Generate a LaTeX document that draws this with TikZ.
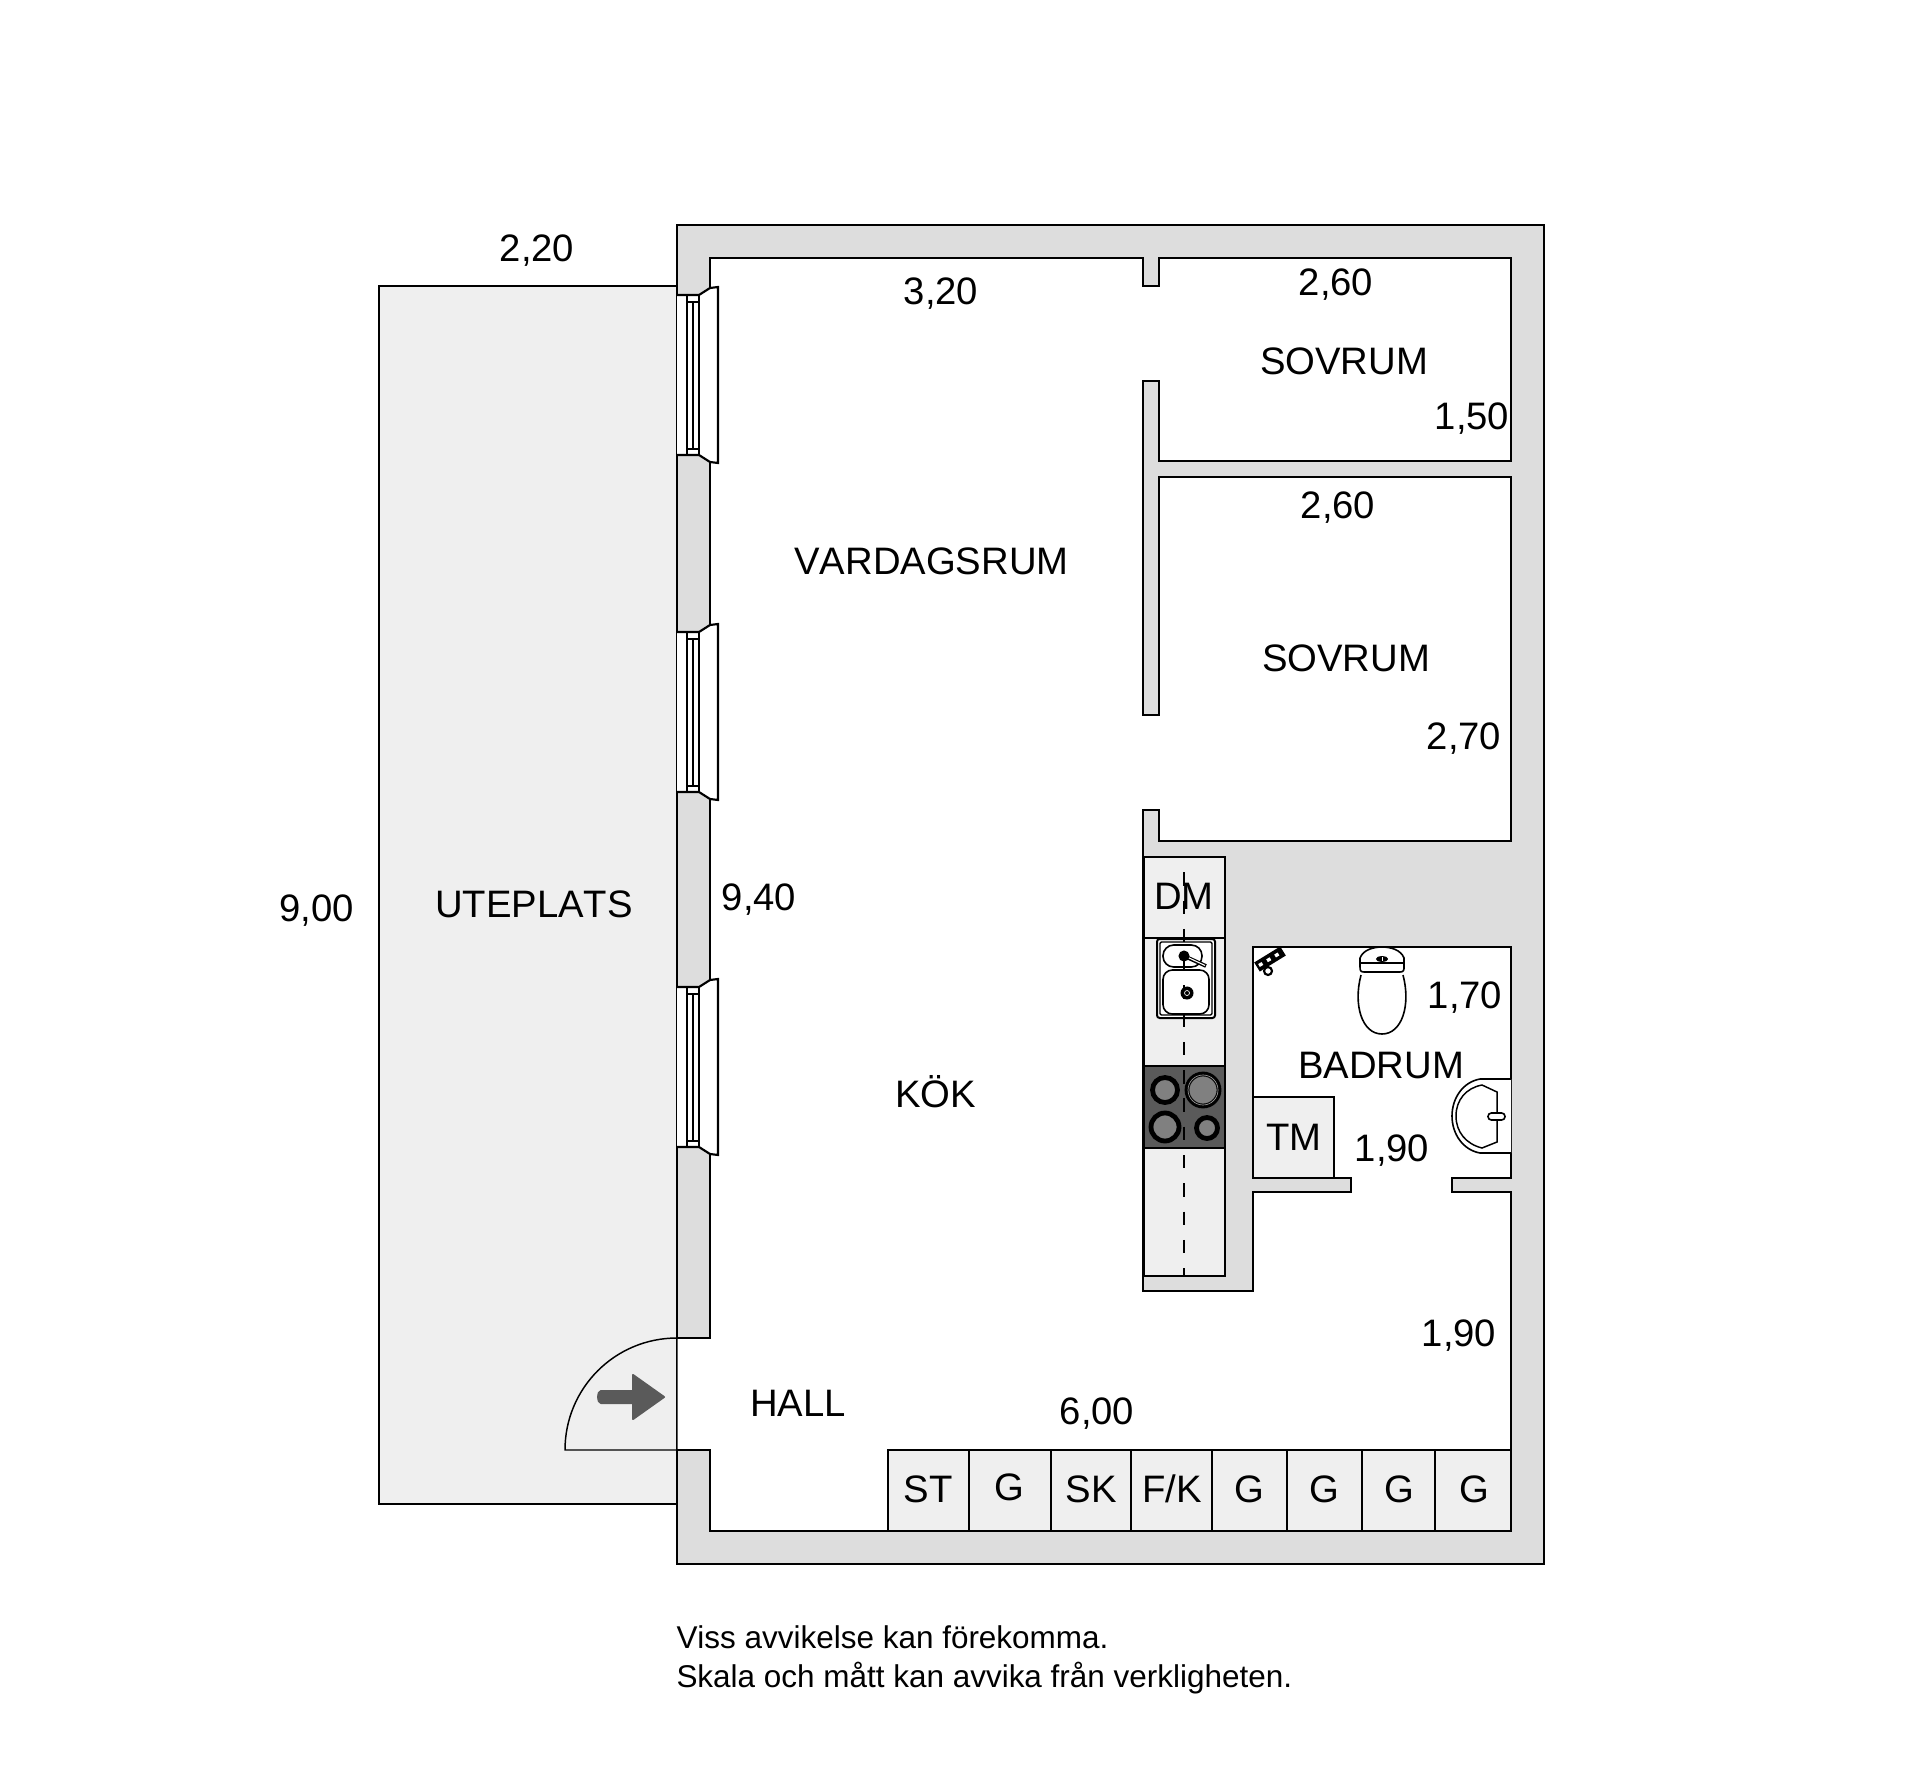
\documentclass[tikz,border=0pt]{standalone}
\usepackage{fontspec}
\setmainfont[Kerning=Off]{Liberation Sans}

\tikzset{every picture/.style={line width=0.75pt}}
\tikzset{
  outerwall/.style={draw=black,line width=1.3pt,fill={rgb, 255:red, 221; green, 221; blue, 221 }},
  terrace/.style={draw=black,line width=1pt,fill={rgb, 255:red, 239; green, 239; blue, 239 }},
  floorline/.style={draw=black,line width=1.6pt,line join=miter,fill=white},
  thinline/.style={draw=black,line width=1.1pt},
  fixture/.style={draw=black,line width=1.2pt,fill=white},
  cabinet/.style={draw=black,line width=1.4pt,fill={rgb, 255:red, 239; green, 239; blue, 239 }},
  hob/.style={draw=black,line width=1.4pt,fill={rgb, 255:red, 90; green, 90; blue, 90 }},
  burner/.style={draw=black,line width=3.6pt,fill={rgb, 255:red, 128; green, 128; blue, 128 }},
  roomlabel/.style={anchor=base,inner sep=0.75pt,font=\fontsize{28.7}{28.7}\selectfont},
  notelabel/.style={anchor=base west,inner sep=0.75pt,font=\fontsize{23.6}{23.6}\selectfont},
}

\begin{document}
\begin{tikzpicture}[x=0.75pt,y=0.75pt,yscale=-1,xscale=1]
        \useasboundingbox (0,0) rectangle (1920,1787);

        %Shape: Rectangle, terrace
        \draw  [terrace] (379,286) -- (677,286) -- (677,1504) -- (379,1504) -- cycle ;
        %Shape: Rectangle, outer wall
        \draw  [outerwall] (677,225) -- (1544,225) -- (1544,1564) -- (677,1564) -- cycle ;

        %Shape: Polygon, floor of all rooms (open at the entrance)
        \draw  [floorline] (677,1338) -- (710,1338) -- (710,258) -- (1143,258) -- (1143,286) -- (1159,286) -- (1159,258) -- (1511,258) -- (1511,461) -- (1159,461) -- (1159,381) -- (1143,381) -- (1143,715) -- (1159,715) -- (1159,477) -- (1511,477) -- (1511,841) -- (1159,841) -- (1159,810) -- (1143,810) -- (1143,1291) -- (1253,1291) -- (1253,1192) -- (1351,1192) -- (1351,1178) -- (1253,1178) -- (1253,947) -- (1511,947) -- (1511,1178) -- (1452,1178) -- (1452,1192) -- (1511,1192) -- (1511,1531) -- (710,1531) -- (710,1450) -- (677,1450) ;

        %Shape: Entrance door
        \draw  [thinline] (677,1338) -- (677,1450) -- (565,1450) .. controls (565,1388) and (615,1338) .. (677,1338) ;
        %Shape: Arrow
        \draw  [draw={rgb, 255:red, 90; green, 90; blue, 90 },line width=1.5pt,line join=round,fill={rgb, 255:red, 90; green, 90; blue, 90 }] (601,1391) -- (633,1391) -- (633,1375) -- (664,1397) -- (633,1419) -- (633,1403) -- (601,1403) .. controls (597,1403) and (597,1391) .. (601,1391) -- cycle ;

        %Shape: Window 1
        \draw  [floorline] (677,295) -- (699,295) -- (710,288) -- (718,287) -- (718,463) -- (710,462) -- (699,455) -- (677,455) ;
        \draw  [thinline] (687,295) -- (687,455) (693,302) -- (693,449) (699,295) -- (699,455) (687,302) -- (699,302) (687,449) -- (699,449) ;
        %Shape: Window 2
        \draw  [floorline] (677,632) -- (699,632) -- (710,625) -- (718,624) -- (718,800) -- (710,799) -- (699,792) -- (677,792) ;
        \draw  [thinline] (687,632) -- (687,792) (693,639) -- (693,786) (699,632) -- (699,792) (687,639) -- (699,639) (687,786) -- (699,786) ;
        %Shape: Window 3
        \draw  [floorline] (677,987) -- (699,987) -- (710,980) -- (718,979) -- (718,1155) -- (710,1154) -- (699,1147) -- (677,1147) ;
        \draw  [thinline] (687,987) -- (687,1147) (693,994) -- (693,1141) (699,987) -- (699,1147) (687,994) -- (699,994) (687,1141) -- (699,1141) ;

        %Shape: Kitchen counter
        \draw  [cabinet] (1144,857) -- (1225,857) -- (1225,1276) -- (1144,1276) -- cycle ;
        \draw  [thinline] (1144,938) -- (1225,938) ;

        %Shape: Kitchen sink
        \draw  [fixture,line width=1.5pt,rounded corners=2pt] (1157,939) -- (1215,939) -- (1215,1018) -- (1157,1018) -- cycle ;
        \draw  [thinline,rounded corners=1pt] (1160,942) -- (1212,942) -- (1212,1015) -- (1160,1015) -- cycle ;
        \draw  [fixture,rounded corners=8pt] (1163,945) -- (1202,945) -- (1202,967) -- (1163,967) -- cycle ;
        \draw  [fixture,rounded corners=7pt] (1163,970) -- (1209,970) -- (1209,1014) -- (1163,1014) -- cycle ;

        %Shape: Hob
        \draw  [hob] (1144,1066) -- (1225,1066) -- (1225,1148) -- (1144,1148) -- cycle ;

        %Shape: Centre line of the counter
        \draw  [thinline,dash pattern={on 10pt off 11.2pt},dash phase=9.7pt] (1184,857) -- (1184,1276) ;

        %Shape: Tap and drain
        \draw  [line width=2.8pt] (1184,956) -- (1206,966) ;
        \draw  [white,line width=0.8pt] (1187,957) -- (1205,965.5) ;
        \draw  [fill=black] (1184,956) circle [radius=5] ;
        \draw  [fill=black] (1187,993) circle [radius=6] ;
        \draw  [white,line width=0.5pt] (1187,993) circle [radius=2.5] ;

        %Shape: Burners
        \draw  [burner] (1165,1090) circle [radius=12.5] ;
        \draw  [burner] (1203,1090) circle [radius=16] ;
        \draw  [white,line width=0.5pt,opacity=0.6] (1203,1090) circle [radius=15] ;
        \draw  [burner] (1165,1127) circle [radius=14] ;
        \draw  [burner] (1207,1128) circle [radius=10.5] ;

        %Shape: Washing machine, closets
        \draw  [cabinet] (1253,1097) -- (1334,1097) -- (1334,1178) -- (1253,1178) -- cycle ;
        \draw  [cabinet] (888,1450) -- (1511,1450) -- (1511,1531) -- (888,1531) -- cycle ;
        \draw  [thinline] (969,1450) -- (969,1531) (1051,1450) -- (1051,1531) (1131,1450) -- (1131,1531) (1212,1450) -- (1212,1531) (1287,1450) -- (1287,1531) (1362,1450) -- (1362,1531) (1435,1450) -- (1435,1531) ;

        %Shape: Toilet
        \draw  [fixture] (1361,975) .. controls (1353,1005) and (1362,1034) .. (1382,1034) .. controls (1402,1034) and (1411,1005) .. (1403,975) ;
        \draw  [fixture] (1364,972) .. controls (1360,972) and (1360,970) .. (1360,966) -- (1360,958) .. controls (1363,950) and (1373,947) .. (1382,947) .. controls (1391,947) and (1401,950) .. (1404,958) -- (1404,966) .. controls (1404,970) and (1404,972) .. (1400,972) -- cycle ;
        \draw  [thinline] (1360,963) -- (1404,963) ;
        \draw  [fill=black] (1382,959) ellipse [x radius=5.5,y radius=2.5] ;
        \draw  [white,line width=0.5pt] (1382,957) -- (1382,961) ;

        %Shape: Wash basin
        \draw  [fixture] (1511,1079) -- (1480,1079) .. controls (1463,1082) and (1452,1098) .. (1452,1116) .. controls (1452,1134) and (1463,1150) .. (1480,1153) -- (1511,1153) ;
        \draw  [thinline] (1482,1085) -- (1497,1092) -- (1497,1142) -- (1482,1148) .. controls (1466,1144) and (1456,1132) .. (1456,1116) .. controls (1456,1100) and (1466,1088) .. (1482,1085) -- cycle ;
        \draw  [fixture,rounded corners=2.5pt] (1488,1113) -- (1505,1113) -- (1505,1120) -- (1488,1120) -- cycle ;

        %Shape: Shower mixer
        \draw  [line width=8pt] (1257,967) -- (1283,951) ;
        \draw  [white,line width=2.5pt,dash pattern={on 3pt off 4pt}] (1259,965.5) -- (1281,952.5) ;
        \draw  [fill=white,line width=1.6pt] (1268,971) circle [radius=4] ;

        % Text Node
        \draw (537,262) node (terraceWidth) [roomlabel] {2,20};
        % Text Node
        \draw (941,305) node (livingWidth) [roomlabel] {3,20};
        % Text Node
        \draw (1336,296) node (bedOneWidth) [roomlabel] {2,60};
        % Text Node
        \draw (1344,374) node (bedOne) [roomlabel] {SOVRUM};
        % Text Node
        \draw (1472,429) node (bedOneDepth) [roomlabel] {1,50};
        % Text Node
        \draw (1338,518) node (bedTwoWidth) [roomlabel] {2,60};
        % Text Node
        \draw (931.5,574.5) node (living) [roomlabel] {VARDAGSRUM};
        % Text Node
        \draw (1346,671) node (bedTwo) [roomlabel] {SOVRUM};
        % Text Node
        \draw (1464,749) node (bedTwoDepth) [roomlabel] {2,70};
        % Text Node
        \draw (534,917) node (terraceName) [roomlabel] {UTEPLATS};
        % Text Node
        \draw (316.5,921) node (terraceDepth) [roomlabel] {9,00};
        % Text Node
        \draw (759,910) node (livingDepth) [roomlabel] {9,40};
        % Text Node
        \draw (1184,909) node (dishwasher) [roomlabel] {DM};
        % Text Node
        \draw (1465,1008) node (bathDepth) [roomlabel] {1,70};
        % Text Node
        \draw (1381,1078) node (bath) [roomlabel] {BADRUM};
        % Text Node
        \draw (1294,1150) node (dryer) [roomlabel] {TM};
        % Text Node
        \draw (1392,1161) node (bathWidth) [roomlabel] {1,90};
        % Text Node
        \draw (935.5,1107) node (kitchen) [roomlabel] {KÖK};
        % Text Node
        \draw (1459,1346) node (hallDepth) [roomlabel] {1,90};
        % Text Node
        \draw (798,1416) node (hall) [roomlabel] {HALL};
        % Text Node
        \draw (1097,1424) node (hallWidth) [roomlabel] {6,00};
        % Text Node
        \draw (928,1502) node (closetST) [roomlabel] {ST};
        % Text Node
        \draw (1009,1500) node (closetA) [roomlabel] {G};
        % Text Node
        \draw (1091,1502) node (closetSK) [roomlabel] {SK};
        % Text Node
        \draw (1172,1502) node (closetFK) [roomlabel] {F/K};
        % Text Node
        \draw (1249,1502) node (closetB) [roomlabel] {G};
        % Text Node
        \draw (1324,1502) node (closetC) [roomlabel] {G};
        % Text Node
        \draw (1399,1502) node (closetD) [roomlabel] {G};
        % Text Node
        \draw (1474,1502) node (closetE) [roomlabel] {G};
        % Text Node
        \draw (675,1648) node (noteOne) [notelabel] {Viss avvikelse kan förekomma.};
        % Text Node
        \draw (675,1687) node (noteTwo) [notelabel] {Skala och mått kan avvika från verkligheten.};

    \end{tikzpicture}
\end{document}
